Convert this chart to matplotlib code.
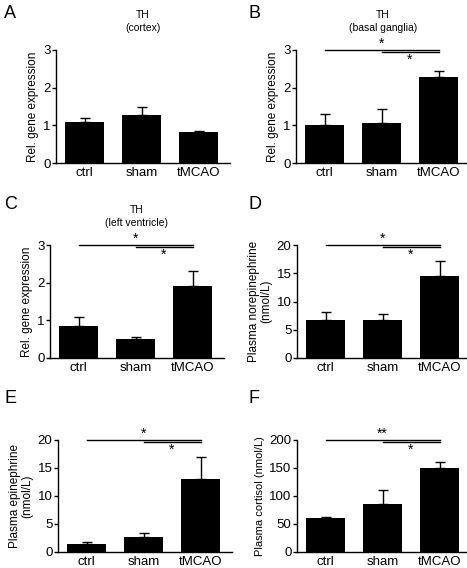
import matplotlib
matplotlib.use('Agg')
import matplotlib.pyplot as plt

plt.rcParams['font.family'] = ['Liberation Sans', 'DejaVu Sans']

groups = ['ctrl', 'sham', 'tMCAO']

# means and SEM (upper error only)
th_cortex = [1.08, 1.27, 0.83]
th_cortex_err = [0.12, 0.23, 0.03]
th_basal = [1.0, 1.05, 2.27]
th_basal_err = [0.31, 0.38, 0.18]
th_ventricle = [0.85, 0.50, 1.90]
th_ventricle_err = [0.24, 0.07, 0.41]
norepi = [6.8, 6.7, 14.5]
norepi_err = [1.3, 1.0, 2.7]
epi = [1.5, 2.7, 13.0]
epi_err = [0.3, 0.7, 4.0]
cortisol = [60, 85, 150]
cortisol_err = [2, 26, 10]

W, H = 467, 568
fig = plt.figure(figsize=(W / 100, H / 100), dpi=100)


def panel(left, top, bottom, letter, letter_xy, values, errs, ymax, step,
          ylabel, title=None, sig=None, ylabel_size=8.5):
    unit = 57.0
    xl = (-0.5, 2.55)
    width = (xl[1] - xl[0]) * unit
    ax = fig.add_axes([left / W, 1 - bottom / H, width / W, (bottom - top) / H])
    x = range(len(groups))
    ax.bar(x, values, width=0.68, color='black', zorder=2)
    ax.errorbar(x, values, yerr=[[0] * len(errs), errs], fmt='none',
                ecolor='black', elinewidth=1, capsize=3.8, capthick=1, zorder=1)
    ax.set_xlim(*xl)
    ax.set_ylim(0, ymax)
    ax.set_yticks([i * step for i in range(int(round(ymax / step)) + 1)])
    ax.set_xticks(list(x))
    ax.set_xticklabels(groups, fontsize=9.5)
    ax.tick_params(axis='y', labelsize=9.5, length=3, width=1, pad=1)
    ax.tick_params(axis='x', length=0, pad=3)
    for s in ['top', 'right']:
        ax.spines[s].set_visible(False)
    for s in ['left', 'bottom']:
        ax.spines[s].set_linewidth(1)
    ax.set_ylabel(ylabel, fontsize=ylabel_size, labelpad=3, linespacing=1.0)
    if title:
        ax.set_title(title, fontsize=7.5, pad=14, linespacing=1.3)
    if sig:
        (s1, s2) = sig
        d = ymax * 0.022
        ax.plot([0, 2], [ymax, ymax], color='black', lw=1, clip_on=False)
        ax.plot([1, 2], [ymax - d, ymax - d], color='black', lw=1, clip_on=False)
        ax.text(1.0, ymax - d * 0.3, s1, ha='center', va='bottom', fontsize=10)
        ax.text(1.5, ymax - d * 1.3, s2, ha='center', va='top', fontsize=10)
    fig.text(letter_xy[0] / W, 1 - letter_xy[1] / H, letter, fontsize=13,
             va='top', ha='left')
    return ax


panel(56, 50, 163, 'A', (4, 5), th_cortex, th_cortex_err, 3, 1,
      'Rel. gene expression', 'TH\n(cortex)')
panel(296, 50, 163, 'B', (249, 5), th_basal, th_basal_err, 3, 1,
      'Rel. gene expression', 'TH\n(basal ganglia)', ('*', '*'))
panel(50, 245, 358, 'C', (4, 196), th_ventricle, th_ventricle_err, 3, 1,
      'Rel. gene expression', 'TH\n(left ventricle)', ('*', '*'))
panel(297, 245, 358, 'D', (249, 196), norepi, norepi_err, 20, 5,
      'Plasma norepinephrine\n(nmol/L)', None, ('*', '*'))
panel(58, 440, 552, 'E', (4, 390), epi, epi_err, 20, 5,
      'Plasma epinephrine\n(nmol/L)', None, ('*', '*'))
panel(297, 440, 552, 'F', (249, 390), cortisol, cortisol_err, 200, 50,
      'Plasma cortisol (nmol/L)', None, ('**', '*'), ylabel_size=8)

fig.savefig('out.png', dpi=100)
